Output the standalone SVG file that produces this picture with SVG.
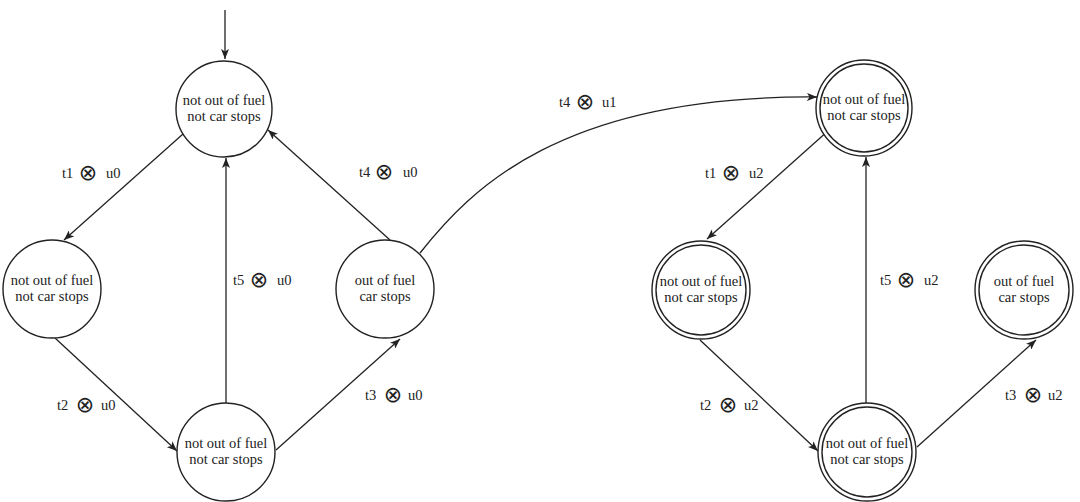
<svg xmlns="http://www.w3.org/2000/svg" width="1080" height="502" viewBox="0 0 1080 502">
<style>
.n{fill:#fff;stroke:#222;stroke-width:1.4}
.t{font-family:"Liberation Serif","DejaVu Serif",serif;font-size:14.5px;fill:#222;text-anchor:middle}
.l{font-family:"Liberation Serif","DejaVu Serif",serif;font-size:14.5px;fill:#222}
.o{font-family:"DejaVu Sans",sans-serif;font-size:22px;text-anchor:middle}
.e{fill:none;stroke:#222;stroke-width:1.3;marker-end:url(#ah)}
</style>
<defs>
<marker id="ah" viewBox="0 0 10 8" refX="10" refY="4" markerWidth="10" markerHeight="8" markerUnits="userSpaceOnUse" orient="auto">
<path d="M0,0 L10,4 L0,8 L2.5,4 z" fill="#222"/>
</marker>
</defs>
<rect width="1080" height="502" fill="#fff"/>
<g id="connectors">
<path class="e" d="M225,10 L225,59"/>
<path class="e" d="M183,134 L64,240"/>
<path class="e" d="M55,338 L177,451"/>
<path class="e" d="M226,403 L226,158"/>
<path class="e" d="M276,450 L400,339"/>
<path class="e" d="M390,240 L268,130"/>
<path class="e" d="M420,253 C470,190 560,95 817,97"/>
<path class="e" d="M829,130 L707,239"/>
<path class="e" d="M700,340 L818,451"/>
<path class="e" d="M866,404 L866,157"/>
<path class="e" d="M917,447 L1036,340"/>
<text class="l" x="62" y="178">t1<tspan class="o" x="88" dy="2">⊗</tspan><tspan x="106" dy="-2">u0</tspan></text>
<text class="l" x="57" y="410">t2<tspan class="o" x="85" dy="2">⊗</tspan><tspan x="101" dy="-2">u0</tspan></text>
<text class="l" x="233" y="285">t5<tspan class="o" x="259" dy="2">⊗</tspan><tspan x="277" dy="-2">u0</tspan></text>
<text class="l" x="365" y="400">t3<tspan class="o" x="393" dy="2">⊗</tspan><tspan x="408" dy="-2">u0</tspan></text>
<text class="l" x="359" y="177">t4<tspan class="o" x="384" dy="2">⊗</tspan><tspan x="403" dy="-2">u0</tspan></text>
<text class="l" x="559" y="107">t4<tspan class="o" x="585" dy="2">⊗</tspan><tspan x="602" dy="-2">u1</tspan></text>
<text class="l" x="705" y="178">t1<tspan class="o" x="731" dy="2">⊗</tspan><tspan x="749" dy="-2">u2</tspan></text>
<text class="l" x="700" y="410">t2<tspan class="o" x="728" dy="2">⊗</tspan><tspan x="744" dy="-2">u2</tspan></text>
<text class="l" x="880" y="285">t5<tspan class="o" x="906" dy="2">⊗</tspan><tspan x="924" dy="-2">u2</tspan></text>
<text class="l" x="1005" y="400">t3<tspan class="o" x="1033" dy="2">⊗</tspan><tspan x="1048" dy="-2">u2</tspan></text>
</g>
<g id="nodeA"><circle class="n" cx="224" cy="109" r="48"/><text class="t" x="224" y="105">not out of fuel</text><text class="t" x="224" y="121">not car stops</text></g>
<g id="nodeB"><circle class="n" cx="52" cy="289" r="49"/><text class="t" x="52" y="285">not out of fuel</text><text class="t" x="52" y="301">not car stops</text></g>
<g id="nodeC"><circle class="n" cx="226" cy="452" r="49"/><text class="t" x="226" y="448">not out of fuel</text><text class="t" x="226" y="464">not car stops</text></g>
<g id="nodeD"><circle class="n" cx="385" cy="289" r="49"/><text class="t" x="385" y="285">out of fuel</text><text class="t" x="385" y="301">car stops</text></g>
<g id="nodeE"><circle class="n" cx="864" cy="108" r="48"/><circle class="n" cx="864" cy="108" r="44"/><text class="t" x="864" y="104">not out of fuel</text><text class="t" x="864" y="120">not car stops</text></g>
<g id="nodeF"><circle class="n" cx="701" cy="290" r="49"/><circle class="n" cx="701" cy="290" r="45"/><text class="t" x="701" y="286">not out of fuel</text><text class="t" x="701" y="302">not car stops</text></g>
<g id="nodeG"><circle class="n" cx="1024" cy="290" r="49"/><circle class="n" cx="1024" cy="290" r="45"/><text class="t" x="1024" y="286">out of fuel</text><text class="t" x="1024" y="302">car stops</text></g>
<g id="nodeH"><circle class="n" cx="867" cy="452" r="49"/><circle class="n" cx="867" cy="452" r="45"/><text class="t" x="867" y="448">not out of fuel</text><text class="t" x="867" y="464">not car stops</text></g>
</svg>
